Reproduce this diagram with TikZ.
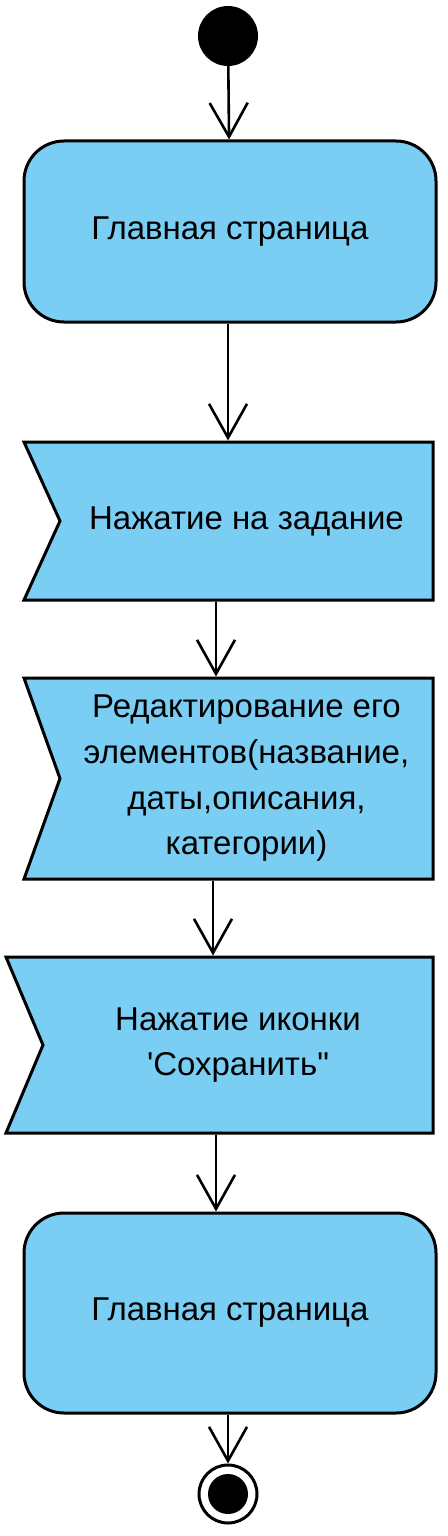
\documentclass[tikz,border=0pt]{standalone}
\usepackage{fontspec}
\setmainfont{Liberation Sans}
\usetikzlibrary{arrows.meta,shapes.symbols}

\definecolor{actblue}{RGB}{122,206,244}

\tikzset{
  txt/.style={font=\fontsize{33}{45.7}\selectfont, align=center},
  act/.style={txt, draw, line width=3pt, fill=actblue, rounded corners=40pt,
    minimum width=412pt},
  flag/.style={txt, signal, signal from=west, signal to=nowhere, draw,
    line width=3pt, fill=actblue},
  flow/.style={->, line width=2.6pt},
}

\begin{document}
\begin{tikzpicture}[x=1pt, y=-1pt,
    >={Straight Barb[length=34pt,width=38pt]}]
  \useasboundingbox (0,0) rectangle (447,1536);
  \node[circle, fill, minimum size=60pt, inner sep=0pt] (start) at (228,36) {};
  \node[act, minimum height=181pt] (main1) at (230,231.5) {Главная страница};
  \node[flag, minimum width=409pt, minimum height=158pt, signal pointer angle=131]
    (tap) at (246.5,521) {Нажатие на задание};
  \node[flag, minimum width=409pt, minimum height=201pt, signal pointer angle=140.6]
    (edit) at (246.5,778.5) {Редактирование его\\элементов(название,\\даты,описания,\\категории)};
  \node[flag, minimum width=427pt, minimum height=176pt, signal pointer angle=134.4]
    (save) at (238,1045) {Нажатие иконки\\\textquotesingle Сохранить\textquotedbl};
  \node[act, minimum height=200pt] (main2) at (230,1313) {Главная страница};
  \node[circle, draw, line width=3pt, minimum size=58pt, inner sep=0pt,
    path picture={\fill (path picture bounding box.center) circle (20pt);}]
    (end) at (228,1494) {};

  \draw[flow] (start) -- (main1);
  \draw[flow] ([xshift=-2pt]main1.south) -- ([xshift=-18.5pt]tap.north);
  \draw[flow] ([xshift=-30.5pt]tap.south) -- ([xshift=-30.5pt]edit.north);
  \draw[flow] ([xshift=-33.5pt]edit.south) -- ([xshift=-25pt]save.north);
  \draw[flow] ([xshift=-22pt]save.south) -- ([xshift=-14pt]main2.north);
  \draw[flow] ([xshift=-2pt]main2.south) -- (end);
\end{tikzpicture}
\end{document}
